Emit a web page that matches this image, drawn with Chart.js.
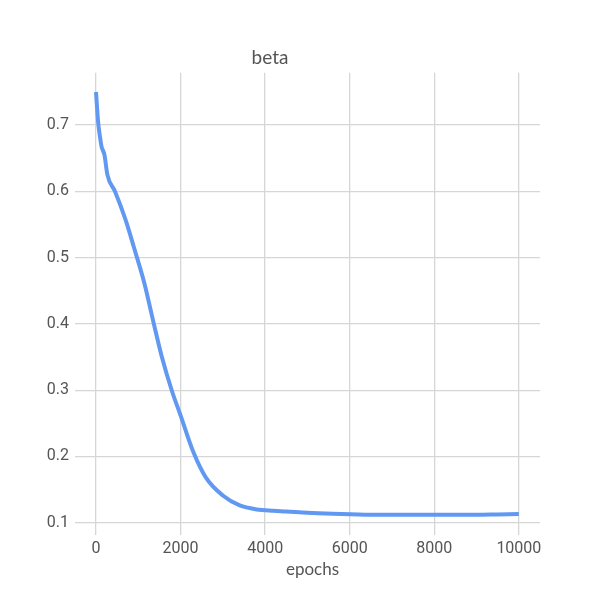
<!DOCTYPE html>
<html lang="en">
<head>
  <meta charset="UTF-8" />
  <title>beta</title>
  <script src="https://cdn.jsdelivr.net/npm/chart.js"></script>
  <style>
    html, body { margin: 0; padding: 0; background: #fff; }
    #wrap { width: 600px; height: 600px; }
  </style>
</head>
<body>
  <div id="wrap"><canvas id="betaChart" width="600" height="600"></canvas></div>

  <script>
    // values
    const epochs = [0, 50, 100, 130, 200, 270, 450, 700, 900, 1150, 1350, 1550, 1800, 2000,
                    2300, 2600, 3000, 3400, 3800, 4200, 4500, 5000, 5600, 6500, 7500, 8500,
                    9000, 9500, 10000];
    const beta   = [0.750, 0.705, 0.680, 0.668, 0.655, 0.625, 0.600, 0.557, 0.515, 0.460,
                    0.405, 0.352, 0.298, 0.262, 0.207, 0.168, 0.141, 0.126, 0.120, 0.118,
                    0.117, 0.115, 0.1135, 0.112, 0.112, 0.112, 0.112, 0.1125, 0.113];
    const xTicks = [0, 2000, 4000, 6000, 8000, 10000];
    const yTicks = [0.1, 0.2, 0.3, 0.4, 0.5, 0.6, 0.7];

    const points = epochs.map((e, i) => ({ x: e, y: beta[i] }));
    const gridColor = '#d6d6d6';
    const textColor = '#555';

    new Chart(document.getElementById('betaChart').getContext('2d'), {
      type: 'line',
      data: {
        datasets: [{
          data: points,
          borderColor: '#6198f2',
          borderWidth: 4,
          pointRadius: 0,
          cubicInterpolationMode: 'monotone',
          fill: false
        }]
      },
      options: {
        responsive: false,
        animation: false,
        layout: { padding: { left: 0, right: 60, top: 0, bottom: 20 } },
        plugins: {
          legend: { display: false },
          tooltip: { enabled: false },
          title: {
            display: true,
            text: 'beta',
            color: textColor,
            font: { family: 'Lato', size: 19, weight: 'normal' },
            padding: { top: 46, bottom: 4 }
          }
        },
        scales: {
          x: {
            type: 'linear',
            min: -260,
            max: 10500,
            afterBuildTicks: s => { s.ticks = xTicks.map(v => ({ value: v })); },
            afterFit: s => { s.height = 55; },
            grid: { color: gridColor, lineWidth: 1.3, tickLength: 10 },
            border: { display: false },
            ticks: {
              color: textColor,
              font: { family: 'Roboto', size: 16 },
              padding: 4,
              callback: v => String(v)
            },
            title: {
              display: true,
              text: 'epochs',
              color: textColor,
              font: { family: 'Lato', size: 17 },
              padding: { top: 2, bottom: 0 }
            }
          },
          y: {
            min: 0.0965,
            max: 0.779,
            afterBuildTicks: s => { s.ticks = yTicks.map(v => ({ value: v })); },
            afterFit: s => { s.width = 85; },
            grid: { color: gridColor, lineWidth: 1.3, tickLength: 10 },
            border: { display: false },
            ticks: {
              color: textColor,
              font: { family: 'Roboto', size: 16 },
              padding: 6,
              callback: v => v.toFixed(1)
            }
          }
        }
      }
    });
  </script>
</body>
</html>
